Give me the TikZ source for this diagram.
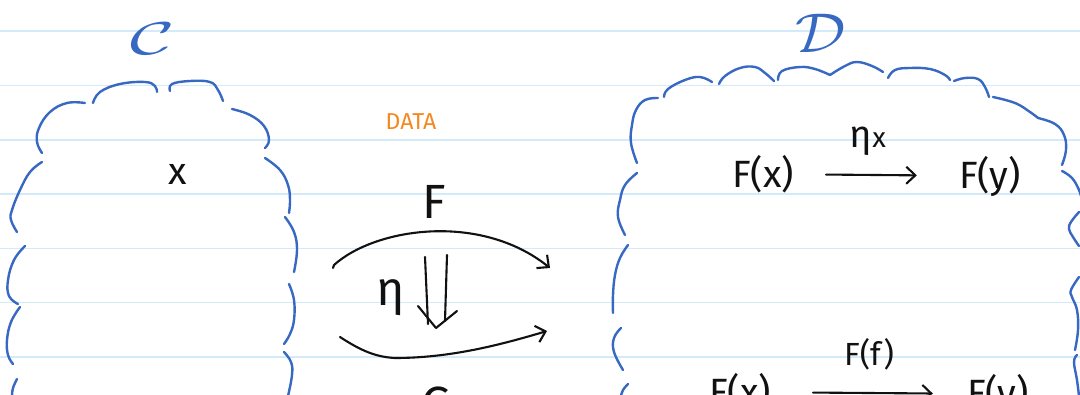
\documentclass[tikz,border=0pt]{standalone}
\usepackage{fontspec}
\setmainfont{Fira Sans}
\usetikzlibrary{arrows.meta}
\definecolor{ink}{HTML}{111111}
\definecolor{cloudblue}{HTML}{3768C2}
\definecolor{ruleblue}{HTML}{D2EAFA}
\definecolor{noteorange}{HTML}{F5891F}
\begin{document}
\begin{tikzpicture}[x=1pt,y=-1pt,
  ruling/.style={ruleblue, line width=1.6pt},
  cloud/.style={cloudblue, line width=2.4pt, line cap=round, line join=round},
  pen/.style={ink, line width=2.1pt, line cap=round, line join=round},
  arr/.style={pen, -{Straight Barb[length=9pt,width=17pt,line width=2.1pt]}},
  hand/.style={ink, font=\fontsize{38}{40}\selectfont, inner sep=2pt},
  bighand/.style={ink, font=\fontsize{48}{50}\selectfont, inner sep=2pt},
  smallhand/.style={ink, font=\fontsize{32}{34}\selectfont, inner sep=2pt},
  title/.style={cloudblue, inner sep=0pt},
  memo/.style={noteorange, font=\fontsize{23}{25}\selectfont, inner sep=0pt}]
\useasboundingbox (0,0) rectangle (1080,394);
\clip (0,0) rectangle (1080,394);
\fill[white] (0,0) rectangle (1080,394);

% ruled paper
\foreach \yy in {31,85.5,140,194,248.5,302.5,357}
  \draw[ruling] (0,\yy) -- (1080,\yy);

% category C as a cloud
\draw[cloud] plot[smooth,tension=0.7] coordinates {(85,103) (67,103) (50,112) (39,128) (37,142) (42,153)};
\draw[cloud] plot[smooth,tension=0.7] coordinates {(93,103) (100,92) (120,84) (145,82) (155,86) (157,92)};
\draw[cloud] plot[smooth,tension=0.7] coordinates {(170,91) (172,84) (190,81) (210,82) (218,90) (223,101)};
\draw[cloud] plot[smooth,tension=0.7] coordinates {(232,109) (250,115) (264,126) (269,140) (265,148)};
\draw[cloud] plot[smooth,tension=0.7] coordinates {(265,158) (280,170) (288,185) (290,200) (289,213)};
\draw[cloud] plot[smooth,tension=0.7] coordinates {(285,217) (294,232) (297,250) (294,272)};
\draw[cloud] plot[smooth,tension=0.7] coordinates {(289,284) (294,300) (294,320) (290,334) (284,344)};
\draw[cloud] plot[smooth,tension=0.7] coordinates {(284,352) (291,362) (292,375) (288,396)};
\draw[cloud] plot[smooth,tension=0.7] coordinates {(42,162) (30,172) (20,190) (12,210) (11,220) (17,232)};
\draw[cloud] plot[smooth,tension=0.7] coordinates {(25,246) (14,260) (8,280) (9,296) (18,304)};
\draw[cloud] plot[smooth,tension=0.7] coordinates {(20,307) (11,322) (7,340) (8,355) (13,364)};
\draw[cloud] plot[smooth,tension=0.7] coordinates {(17,379) (13,388) (12,396)};

% category D as a cloud
\draw[cloud] plot[smooth,tension=0.7] coordinates {(658,98) (645,100) (636,110) (632,125) (631,143) (637,163)};
\draw[cloud] plot[smooth,tension=0.7] coordinates {(664,97) (668,89) (685,80) (700,77) (712,82)};
\draw[cloud] plot[smooth,tension=0.7] coordinates {(719,84) (725,76) (740,68) (755,67) (765,73) (774,81)};
\draw[cloud] plot[smooth,tension=0.7] coordinates {(778,80) (782,71) (800,67) (815,69) (830,75)};
\draw[cloud] plot[smooth,tension=0.7] coordinates {(830,75) (845,66) (857,62) (872,66) (883,72)};
\draw[cloud] plot[smooth,tension=0.7] coordinates {(888,78) (895,70) (910,68) (930,69) (945,75) (950,80)};
\draw[cloud] plot[smooth,tension=0.7] coordinates {(954,81) (965,78) (978,79) (985,87) (989,97)};
\draw[cloud] plot[smooth,tension=0.7] coordinates {(993,97) (1015,103) (1030,112) (1038,118)};
\draw[cloud] plot[smooth,tension=0.7] coordinates {(1038,118) (1055,124) (1064,135) (1066,150) (1062,165)};
\draw[cloud] plot[smooth,tension=0.7] coordinates {(1062,171) (1072,178) (1079,190) (1082,200)};
\draw[cloud] plot[smooth,tension=0.7] coordinates {(1079,212) (1071,222) (1069,229) (1073,237) (1079,246)};
\draw[cloud] plot[smooth,tension=0.7] coordinates {(1079,277) (1071,290) (1072,297) (1077,310) (1078,330) (1075,350)};
\draw[cloud] plot[smooth,tension=0.7] coordinates {(1077,355) (1074,362) (1077,380) (1079,396)};
\draw[cloud] plot[smooth,tension=0.7] coordinates {(637,173) (625,185) (620,200) (618,217) (625,235)};
\draw[cloud] plot[smooth,tension=0.7] coordinates {(628,245) (620,258) (615,275) (613,295) (613,313)};
\draw[cloud] plot[smooth,tension=0.7] coordinates {(621,328) (614,338) (614,352) (623,370)};
\draw[cloud] plot[smooth,tension=0.7] coordinates {(628,384) (623,390) (621,396)};

% category names
\node[title] (catC) at (153,39) {\scalebox{7.6}[4.6]{$\mathcal{C}$}};
\node[title] (catD) at (821,33) {\scalebox{6.3}[5.6]{$\mathcal{D}$}};

% object of C
\node[hand] (objx) at (178,174) {x};

% functors and the transformation between them
\node[memo] (data) at (411,122) {DATA};
\node[bighand] (lblF) at (434,202) {F};
\node[bighand] (lblG) at (437,404) {G};
\coordinate (Fs) at (334,265);
\coordinate (Fe) at (550,268);
\coordinate (Gs) at (340,337);
\coordinate (Gm) at (395,358);
\coordinate (Ge) at (547,331);
\draw[pen] (333,268) -- (Fs);
\draw[arr] (Fs) .. controls (375,228) and (480,212) .. (Fe);
\draw[arr] (Gs) .. controls (360,350) and (375,357) .. (Gm)
                .. controls (450,358) and (500,345) .. (Ge);

\coordinate (etip) at (436,328);
\draw[pen] ([shift={(-11,-71)}]etip) -- ([shift={(-8,-4)}]etip);
\draw[pen] ([shift={(11,-73)}]etip) -- ([shift={(9,-7)}]etip);
\draw[pen] ([shift={(-18,-22)}]etip) -- (etip) -- ([shift={(21,-17)}]etip);
\node[bighand] (eta) at (391,298) {η};

% components in D
\node[hand] (Fx) at (763,174) {F(x)};
\node[hand] (Fy) at (990,176) {F(y)};
\draw[arr, shorten <=30pt, shorten >=40pt] (Fx) -- (Fy);
\node[hand] (etax) at (868,141) {η{\fontsize{28}{30}\selectfont x}};

\node[smallhand] (Ff) at (869,354) {F(f)};
\node[hand] (Fx2) at (740,392) {F(x)};
\node[hand] (Fy2) at (998,394) {F(y)};
\draw[arr, shorten <=40pt, shorten >=32pt] (Fx2) -- (Fy2);
\end{tikzpicture}
\end{document}
